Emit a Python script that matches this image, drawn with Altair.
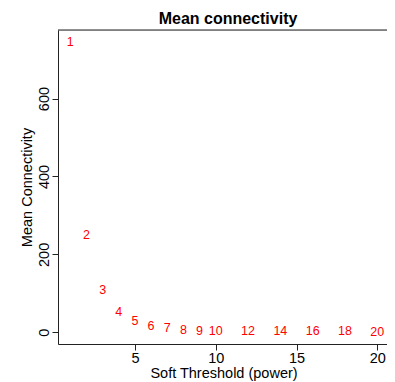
import altair as alt
import pandas as pd

# Soft-threshold powers and the resulting mean connectivity
powers = [1, 2, 3, 4, 5, 6, 7, 8, 9, 10, 12, 14, 16, 18, 20]
mean_k = [745, 251, 108, 53, 30, 17, 11, 7, 4.5, 3.5, 2.5, 2.3, 2.2, 2.1, 2.0]

x_ticks = [5, 10, 15, 20]
y_ticks = [0, 200, 400, 600]
chart_title = "Mean connectivity"

df = pd.DataFrame({"power": powers, "k": mean_k, "label": [str(p) for p in powers]})

W, H = 329, 314
FONT = "Liberation Sans"
INK = "#222222"

x_scale = alt.Scale(domain=[0.24, 20.6], nice=False, zero=False)
y_scale = alt.Scale(domain=[-30, 776], nice=False, zero=False)

x_axis = alt.Axis(
    values=x_ticks, title="Soft Threshold (power)", grid=False,
    domain=True, domainColor=INK, tickColor=INK, tickSize=6,
    labelFont=FONT, labelFontSize=14.5, labelColor="black", labelPadding=1,
    labelBaseline="top",
    titleFont=FONT, titleFontSize=14.5, titleFontWeight="normal", titleColor="black",
    titleBaseline="alphabetic", titleY=33, titleX=W / 2 + 1,
)
y_axis = alt.Axis(
    values=y_ticks, title="Mean Connectivity", grid=False,
    domain=True, domainColor=INK, tickColor=INK, tickSize=6,
    labelFont=FONT, labelFontSize=14.5, labelColor="black", labelAngle=270,
    labelAlign="center", labelBaseline="alphabetic", labelPadding=4,
    titleFont=FONT, titleFontSize=14.5, titleFontWeight="normal", titleColor="black",
    titleAngle=270, titleAlign="center", titleBaseline="alphabetic",
    titleX=-27, titleY=H / 2,
)

points = alt.Chart(df).mark_text(
    color="red", font=FONT, fontSize=12.5, align="center", baseline="middle"
).encode(
    x=alt.X("power:Q", scale=x_scale, axis=x_axis),
    y=alt.Y("k:Q", scale=y_scale, axis=y_axis),
    text="label:N",
)

top_line = alt.Chart(pd.DataFrame({"a": [0]})).mark_rule(color=INK, strokeWidth=1).encode(
    x=alt.value(0), x2=alt.value(W), y=alt.value(0)
)

title_text = alt.Chart(pd.DataFrame({"t": [chart_title]})).mark_text(
    font=FONT, fontSize=16, fontWeight="bold", color="black",
    align="center", baseline="top",
).encode(x=alt.value(170), y=alt.value(-19), text="t:N")

chart = alt.layer(points, top_line, title_text).properties(
    width=W, height=H,
    autosize=alt.AutoSizeParams(type="none"),
    padding={"left": 50, "top": 22, "right": 0, "bottom": 38},
).configure_view(stroke=None).configure(background="white")

chart.save("out.html", embed_options={"renderer": "svg", "actions": False})
